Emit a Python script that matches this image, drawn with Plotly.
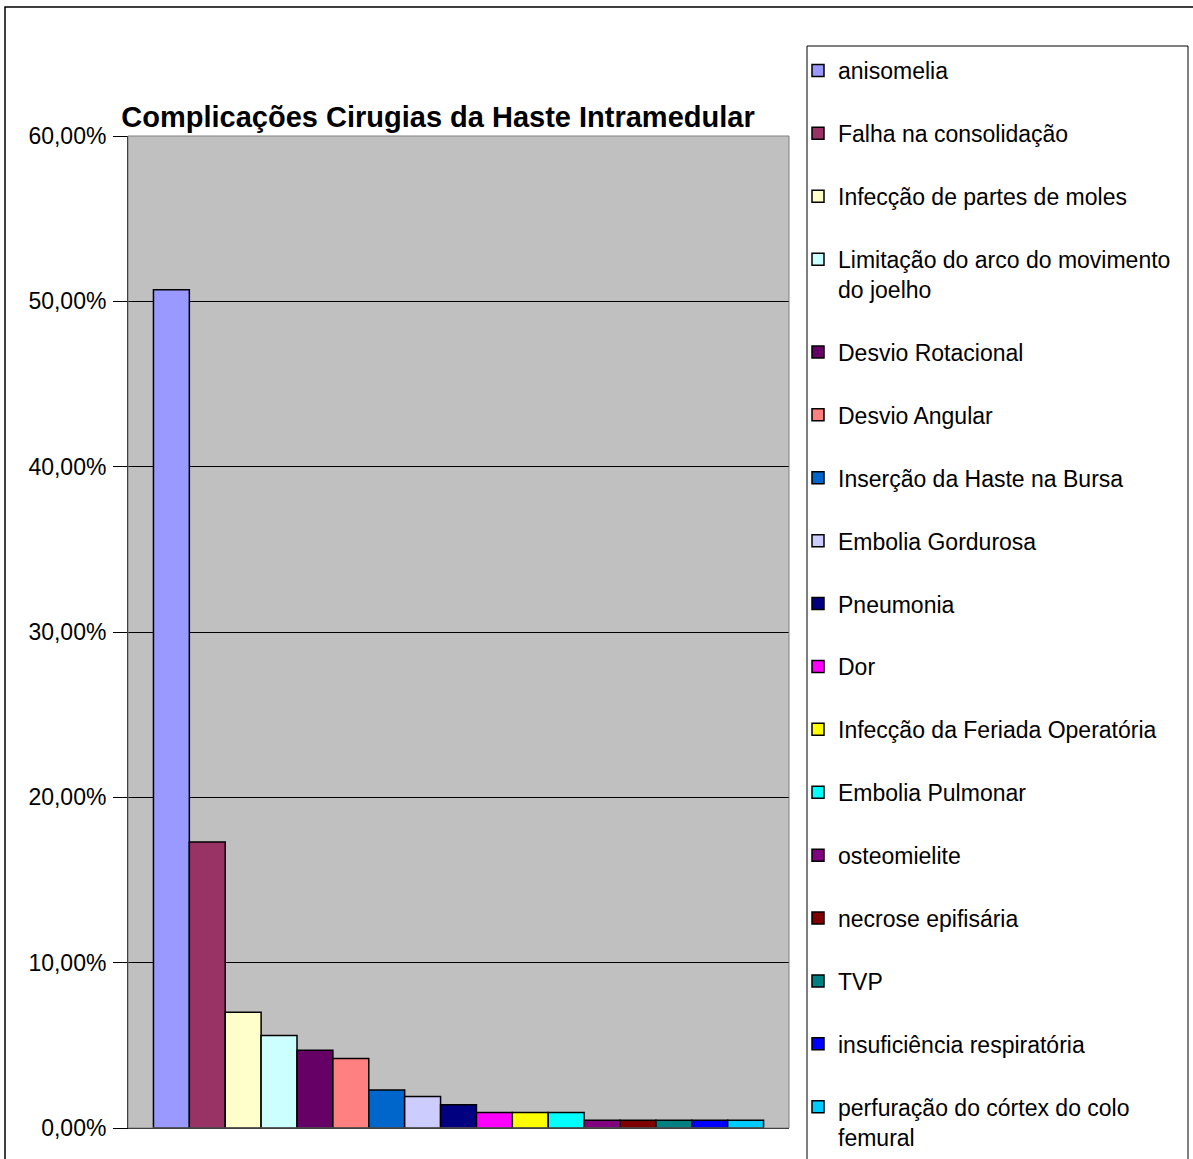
import plotly.graph_objects as go

categories = [
    "anisomelia",
    "Falha na consolidação",
    "Infecção de partes de moles",
    "Limitação do arco do movimento<br>do joelho",
    "Desvio Rotacional",
    "Desvio Angular",
    "Inserção da Haste na Bursa",
    "Embolia Gordurosa",
    "Pneumonia",
    "Dor",
    "Infecção da Feriada Operatória",
    "Embolia Pulmonar",
    "osteomielite",
    "necrose epifisária",
    "TVP",
    "insuficiência respiratória",
    "perfuração do córtex do colo<br>femural",
]
values = [0.507, 0.173, 0.070, 0.056, 0.047, 0.042, 0.023, 0.019, 0.014,
          0.0094, 0.0094, 0.0094, 0.0047, 0.0047, 0.0047, 0.0047, 0.0047]
colors = ["#9999FF", "#993366", "#FFFFCC", "#CCFFFF", "#660066", "#FF8080",
          "#0066CC", "#CCCCFF", "#000080", "#FF00FF", "#FFFF00", "#00FFFF",
          "#800080", "#800000", "#008080", "#0000FF", "#00CCFF"]
title_text = "Complicações Cirugias da Haste Intramedular"

W, H = 1193, 1159
L, R, T, B = 128, 789, 136, 1128
PW, PH = R - L, B - T

def px_x(px):
    return (px - L) / PW

def px_y(py):
    return 1 - (py - T) / PH

fig = go.Figure()
for name, v, c in zip(categories, values, colors):
    fig.add_trace(go.Bar(
        x=[""], y=[v], name=name, legendgroup=name,
        marker=dict(color=c, line=dict(color="black", width=1.5)),
    ))

FONT = "Liberation Sans, Arial, sans-serif"

fig.update_layout(
    width=W, height=H,
    margin=dict(l=L, r=W - R, t=T, b=H - B, pad=0),
    paper_bgcolor="white",
    plot_bgcolor="#C0C0C0",
    separators=",.",
    barmode="group",
    bargap=0.077,
    bargroupgap=0,
    font=dict(family=FONT, size=23, color="black"),
    title=dict(
        text="<b>" + title_text + "</b>",
        font=dict(family=FONT, size=29, color="black"),
        x=438 / W, xanchor="center", xref="container",
        y=1 - 117 / H, yanchor="middle", yref="container",
    ),
    xaxis=dict(
        showticklabels=False, ticks="", showgrid=False,
        showline=True, linecolor="black", linewidth=1,
        zeroline=False,
    ),
    yaxis=dict(
        range=[0, 0.6], dtick=0.1, tick0=0, tickformat=".2%",
        showgrid=True, gridcolor="black", gridwidth=1,
        showline=True, linecolor="black", linewidth=1,
        ticks="outside", ticklen=14, tickcolor="black", tickwidth=1,
        ticklabelstandoff=2,
        zeroline=False,
        tickfont=dict(family=FONT, size=23, color="black"),
    ),
    legend=dict(
        x=px_x(798), xanchor="left",
        y=px_y(50), yanchor="top",
        bgcolor="rgba(0,0,0,0)",
        borderwidth=0,
        font=dict(family=FONT, size=23, color="black"),
        tracegroupgap=30,
        itemwidth=30,
        valign="top",
        maxheight=1.0,
    ),
    showlegend=True,
    shapes=[
        dict(type="rect", xref="paper", yref="paper", x0=0, x1=1, y0=0, y1=1,
             line=dict(color="#808080", width=1), layer="above"),
        dict(type="rect", xref="paper", yref="paper",
             x0=px_x(5), x1=px_x(1210), y0=px_y(1180), y1=px_y(7),
             line=dict(color="black", width=1.5)),
        dict(type="rect", xref="paper", yref="paper",
             x0=px_x(807), x1=px_x(1188), y0=px_y(1180), y1=px_y(46),
             line=dict(color="black", width=1)),
    ],
)

fig.write_html("out.html")
